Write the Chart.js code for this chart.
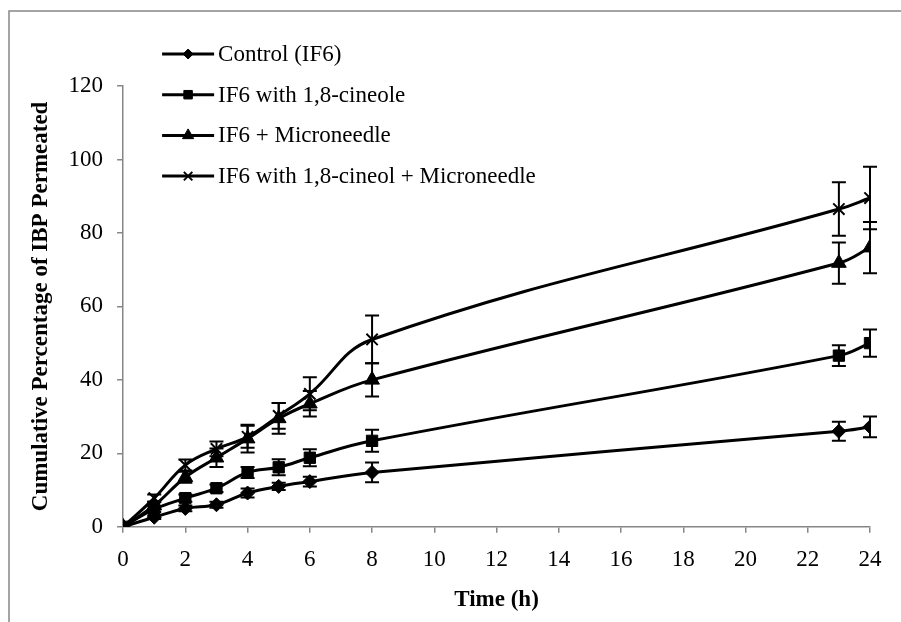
<!DOCTYPE html>
<html>
<head>
    <title>Cumulative IBP Permeated</title>
    <script src="https://cdn.jsdelivr.net/npm/chart.js"></script>
    <style>
        body { margin: 0; background: #fff; }
    </style>
</head>
<body>
    <canvas id="permChart" width="901" height="622"></canvas>

    <script>
    // Data
    const times = [0, 1, 2, 3, 4, 5, 6, 8, 23, 24];
    const seriesNames = ['Control (IF6)', 'IF6 with 1,8-cineole', 'IF6 + Microneedle', 'IF6 with 1,8-cineol + Microneedle'];

    const control     = [0, 2.6, 5.0, 6.0, 9.2, 11.0, 12.3, 14.8, 26.0, 27.2];
    const controlErr  = [0, 0.5, 0.8, 0.8, 1.2, 1.0, 1.3, 2.7, 2.6, 2.8];
    const cineole     = [0, 4.8, 7.8, 10.5, 14.8, 16.2, 18.8, 23.4, 46.6, 50.0];
    const cineoleErr  = [0, 0.8, 1.0, 1.0, 1.5, 2.2, 2.3, 3.0, 2.8, 3.7];
    const micro       = [0, 5.8, 13.5, 18.8, 24.0, 29.5, 33.5, 40.0, 71.8, 76.0];
    const microErr    = [0, 1.0, 1.5, 2.5, 3.8, 4.2, 3.5, 4.5, 5.6, 7.0];
    const combined    = [0, 7.8, 16.8, 21.2, 24.5, 30.2, 36.2, 51.0, 86.5, 89.5];
    const combinedErr = [0, 1.0, 1.5, 2.0, 3.0, 3.5, 4.5, 6.5, 7.3, 8.5];

    const yTicks = [0, 20, 40, 60, 80, 100, 120];
    const xTicks = [0, 2, 4, 6, 8, 10, 12, 14, 16, 18, 20, 22, 24];

    const serif = "'Liberation Serif', 'Times New Roman', serif";
    const axisGrey = '#868686';
    const fontSize = 23;

    function toPoints(vals) {
        return times.map((t, i) => ({ x: t, y: vals[i] }));
    }

    function makeSet(label, vals, errs, style, radius) {
        return {
            label: label,
            data: toPoints(vals),
            errors: errs,
            borderColor: '#000',
            backgroundColor: '#000',
            borderWidth: 3,
            pointStyle: style,
            pointRadius: radius,
            pointBorderWidth: style === 'crossRot' ? 2 : 1,
            pointBorderColor: '#000',
            pointBackgroundColor: '#000',
            tension: 0.4,
            fill: false
        };
    }

    // outer frame (left and top edges only, like the cropped figure)
    const framePlugin = {
        id: 'frame',
        beforeDraw(chart) {
            const ctx = chart.ctx;
            ctx.save();
            ctx.strokeStyle = axisGrey;
            ctx.lineWidth = 1.5;
            ctx.beginPath();
            ctx.moveTo(9, chart.height);
            ctx.lineTo(9, 11);
            ctx.lineTo(chart.width, 11);
            ctx.stroke();
            ctx.restore();
        }
    };

    // vertical error bars with caps
    const errorBarPlugin = {
        id: 'errorBars',
        afterDatasetsDraw(chart) {
            const ctx = chart.ctx;
            const xs = chart.scales.x, ys = chart.scales.y;
            ctx.save();
            ctx.strokeStyle = '#000';
            ctx.lineWidth = 2;
            chart.data.datasets.forEach(ds => {
                ds.data.forEach((p, i) => {
                    const e = ds.errors[i];
                    if (!e) return;
                    const px = xs.getPixelForValue(p.x);
                    const top = ys.getPixelForValue(p.y + e);
                    const bot = ys.getPixelForValue(p.y - e);
                    ctx.beginPath();
                    ctx.moveTo(px, top); ctx.lineTo(px, bot);
                    ctx.moveTo(px - 7, top); ctx.lineTo(px + 7, top);
                    ctx.moveTo(px - 7, bot); ctx.lineTo(px + 7, bot);
                    ctx.stroke();
                });
            });
            ctx.restore();
        }
    };

    // Excel style legend sitting inside the top-left of the plot
    const legendPlugin = {
        id: 'insideLegend',
        afterDraw(chart) {
            const ctx = chart.ctx;
            const area = chart.chartArea;
            const x0 = area.left + 39, x1 = area.left + 91;
            const startY = area.top - 32, step = 40.7;
            ctx.save();
            ctx.font = fontSize + 'px ' + serif;
            ctx.textBaseline = 'middle';
            ctx.fillStyle = '#000';
            chart.data.datasets.forEach((ds, i) => {
                const y = startY + i * step;
                ctx.strokeStyle = '#000';
                ctx.lineWidth = 3;
                ctx.beginPath();
                ctx.moveTo(x0, y); ctx.lineTo(x1, y);
                ctx.stroke();
                ctx.lineWidth = ds.pointBorderWidth;
                Chart.helpers.drawPoint(ctx, {
                    pointStyle: ds.pointStyle,
                    radius: ds.pointRadius - 2,
                    borderWidth: ds.pointBorderWidth
                }, (x0 + x1) / 2, y);
                ctx.fillText(ds.label, x1 + 4, y + 1);
            });
            ctx.restore();
        }
    };

    new Chart(document.getElementById('permChart').getContext('2d'), {
        type: 'line',
        data: {
            datasets: [
                makeSet(seriesNames[0], control, controlErr, 'rectRot', 7),
                makeSet(seriesNames[1], cineole, cineoleErr, 'rect', 8),
                makeSet(seriesNames[2], micro, microErr, 'triangle', 8.5),
                makeSet(seriesNames[3], combined, combinedErr, 'crossRot', 8)
            ]
        },
        options: {
            responsive: false,
            animation: false,
            layout: { padding: { left: 27, top: 86, right: 31, bottom: 4 } },
            plugins: {
                legend: { display: false },
                tooltip: { enabled: false }
            },
            scales: {
                x: {
                    type: 'linear',
                    min: 0,
                    max: 24,
                    afterBuildTicks: axis => { axis.ticks = xTicks.map(v => ({ value: v })); },
                    grid: { drawOnChartArea: false, color: axisGrey, tickLength: 6, lineWidth: 1.5 },
                    border: { color: axisGrey, width: 1.5 },
                    ticks: { color: '#000', font: { family: serif, size: fontSize }, padding: 13, maxRotation: 0 },
                    title: { display: true, text: 'Time (h)', color: '#000', font: { family: serif, size: fontSize, weight: 'bold' }, padding: { top: 0 } }
                },
                y: {
                    min: 0,
                    max: 120,
                    afterBuildTicks: axis => { axis.ticks = yTicks.map(v => ({ value: v })); },
                    grid: { drawOnChartArea: false, color: axisGrey, tickLength: 6, lineWidth: 1.5 },
                    border: { color: axisGrey, width: 1.5 },
                    ticks: { color: '#000', font: { family: serif, size: fontSize }, padding: 14 },
                    title: { display: true, text: 'Cumulative Percentage of IBP Permeated', color: '#000', font: { family: serif, size: fontSize, weight: 'bold' }, padding: 0 }
                }
            }
        },
        plugins: [framePlugin, errorBarPlugin, legendPlugin]
    });
    </script>
</body>
</html>
